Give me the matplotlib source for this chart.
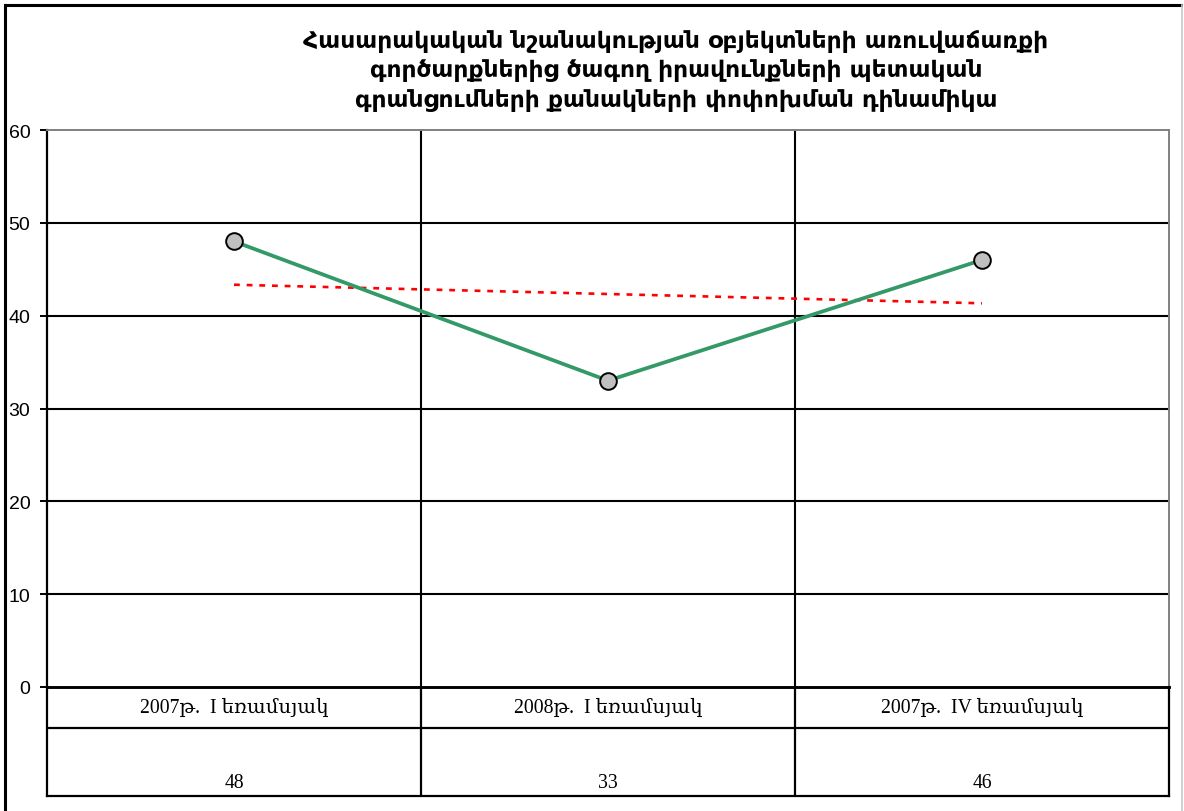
import numpy as np
import matplotlib.pyplot as plt
from matplotlib.lines import Line2D

# data
categories = ["2007թ.  I եռամսյակ", "2008թ.  I եռամսյակ", "2007թ.  IV եռամսյակ"]
values = [48, 33, 46]
yticks = [0, 10, 20, 30, 40, 50, 60]
title = ("Հասարակական նշանակության օբյեկտների առուվաճառքի\n"
         "գործարքներից ծագող իրավունքների պետական\n"
         "գրանցումների քանակների փոփոխման դինամիկա")

W, H = 1184, 812
fig = plt.figure(figsize=(W / 100, H / 100), dpi=100)

def box(x0, y0, x1, y1):
    # pixel box (top-left origin) -> figure fraction rect
    return [x0 / W, 1 - y1 / H, (x1 - x0) / W, (y1 - y0) / H]

ax = fig.add_axes(box(47, 131, 1169, 688))
x = np.arange(len(values))

# trend line (linear fit, like the Excel trendline)
k, b = np.polyfit(x, values, 1)
ax.plot(x, k * x + b, color="red", lw=1.9, ls=(0, (2.2, 2.6)), zorder=3)

ax.plot(x, values, color="#339966", lw=2.7, marker="o", ms=12,
        mfc="#C0C0C0", mec="black", mew=1.4, zorder=4)

ax.set_xlim(-0.5, len(values) - 0.5)
ax.set_ylim(0, 60)
ax.set_yticks(yticks)
ax.set_xticks([])
for t in yticks[1:-1]:
    ax.axhline(t, color="black", lw=1.5, zorder=1)
for xv in np.arange(0.5, len(values) - 0.5):
    ax.axvline(xv, color="black", lw=1.5, zorder=1)

ax.tick_params(axis="y", length=5, width=1.4, pad=7, labelsize=14)
for lab in ax.get_yticklabels():
    lab.set_family(["Liberation Sans", "DejaVu Sans"])
ax.spines["left"].set_linewidth(1.6)
ax.spines["bottom"].set_linewidth(1.8)
ax.spines["top"].set_color("#808080")
ax.spines["right"].set_color("#808080")
ax.spines["top"].set_linewidth(1.4)
ax.spines["right"].set_linewidth(1.4)

# data table below
tab = fig.add_axes(box(47, 688, 1169, 797))
tab.patch.set_visible(False)
tab.set_xlim(-0.5, len(values) - 0.5)
tab.set_ylim(0, 1)
tab.set_xticks([])
tab.set_yticks([])
for s in tab.spines.values():
    s.set_linewidth(1.6)
tab.spines["top"].set_linewidth(1.9)
split = 1 - (729 - 688) / (797 - 688)
tab.axhline(split, color="black", lw=1.6)
for xv in np.arange(0.5, len(values) - 0.5):
    tab.axvline(xv, color="black", lw=1.6)
serif = ["Liberation Serif", "DejaVu Serif"]
for i, (c, v) in enumerate(zip(categories, values)):
    tab.text(i, (1 + split) / 2, c, ha="center", va="center",
             fontsize=14.2, family=serif)
    tab.text(i, 0.04, str(v), ha="center", va="bottom",
             fontsize=14.2, family=serif)

fig.text(676 / W, 1 - 71 / H, title, ha="center", va="center",
         fontsize=16.8, fontweight="bold", linespacing=1.38,
         family=["DejaVu Sans"])

# outer chart frame
fig.add_artist(Line2D([5 / W, 1181 / W], [1 - 6 / H, 1 - 6 / H], color="black", lw=2.2))
fig.add_artist(Line2D([5 / W, 5 / W], [0, 1 - 6 / H], color="black", lw=2.2))
fig.add_artist(Line2D([1182 / W, 1182 / W], [0, 1 - 6 / H], color="#c8c8c8", lw=1.2))

fig.savefig("out.png", dpi=100)
